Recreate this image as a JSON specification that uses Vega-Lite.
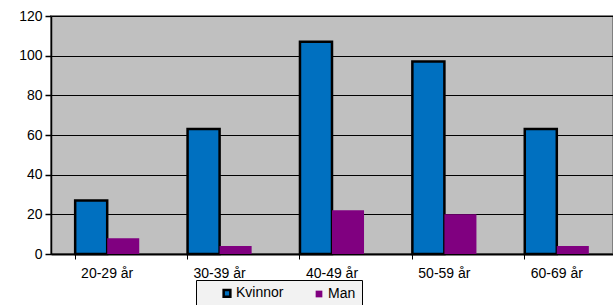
{
  "$schema": "https://vega.github.io/schema/vega-lite/v6.json",
  "autosize": "none",
  "width": 562,
  "height": 238,
  "padding": {"left": 51, "top": 16, "right": 0, "bottom": 51},
  "background": "white",
  "config": {
    "font": "Liberation Sans",
    "view": {"fill": "#C0C0C0", "stroke": "#808080", "strokeWidth": 2}
  },
  "data": {
    "values": [
      {"age": "20-29 år", "series": "Kvinnor", "value": 27},
      {"age": "20-29 år", "series": "Man", "value": 8},
      {"age": "30-39 år", "series": "Kvinnor", "value": 63},
      {"age": "30-39 år", "series": "Man", "value": 4},
      {"age": "40-49 år", "series": "Kvinnor", "value": 107},
      {"age": "40-49 år", "series": "Man", "value": 22},
      {"age": "50-59 år", "series": "Kvinnor", "value": 97},
      {"age": "50-59 år", "series": "Man", "value": 20},
      {"age": "60-69 år", "series": "Kvinnor", "value": 63},
      {"age": "60-69 år", "series": "Man", "value": 4}
    ]
  },
  "mark": {"type": "bar", "stroke": "black"},
  "encoding": {
    "x": {
      "field": "age", "type": "nominal", "sort": null,
      "scale": {"paddingInner": 0.43, "paddingOuter": 0.215},
      "axis": {
        "title": null, "labelAngle": 0, "labelFontSize": 14, "labelColor": "black",
        "labelPadding": 7, "domainColor": "black", "domainWidth": 2,
        "tickColor": "black", "tickSize": 5, "tickWidth": 1, "bandPosition": 0
      }
    },
    "xOffset": {"field": "series", "type": "nominal", "sort": ["Kvinnor", "Man"]},
    "y": {
      "field": "value", "type": "quantitative",
      "scale": {"domain": [0, 120]},
      "axis": {
        "title": null, "values": [0, 20, 40, 60, 80, 100, 120],
        "labelFontSize": 14, "labelColor": "black", "labelPadding": 3,
        "domainColor": "black", "domainWidth": 1.5,
        "tickColor": "black", "tickSize": 6, "tickWidth": 1.5,
        "grid": true, "gridColor": "black", "gridWidth": 1.2
      }
    },
    "color": {
      "field": "series", "type": "nominal",
      "scale": {"domain": ["Kvinnor", "Man"], "range": ["#0070C0", "#800080"]},
      "legend": {
        "title": null, "orient": "none", "legendX": 145, "legendY": 264,
        "direction": "horizontal", "fillColor": "#F2F2F2", "strokeColor": "black",
        "padding": 6, "symbolType": "square", "symbolSize": 45, "symbolOffset": 18,
        "symbolStrokeColor": "black", "symbolStrokeWidth": 1.5, "symbolOpacity": 1,
        "labelFontSize": 14, "labelColor": "black", "labelOffset": 2,
        "columnPadding": 10
      }
    },
    "strokeWidth": {
      "field": "series", "type": "nominal",
      "scale": {"domain": ["Kvinnor", "Man"], "range": [2.5, 0]},
      "legend": null
    }
  }
}
